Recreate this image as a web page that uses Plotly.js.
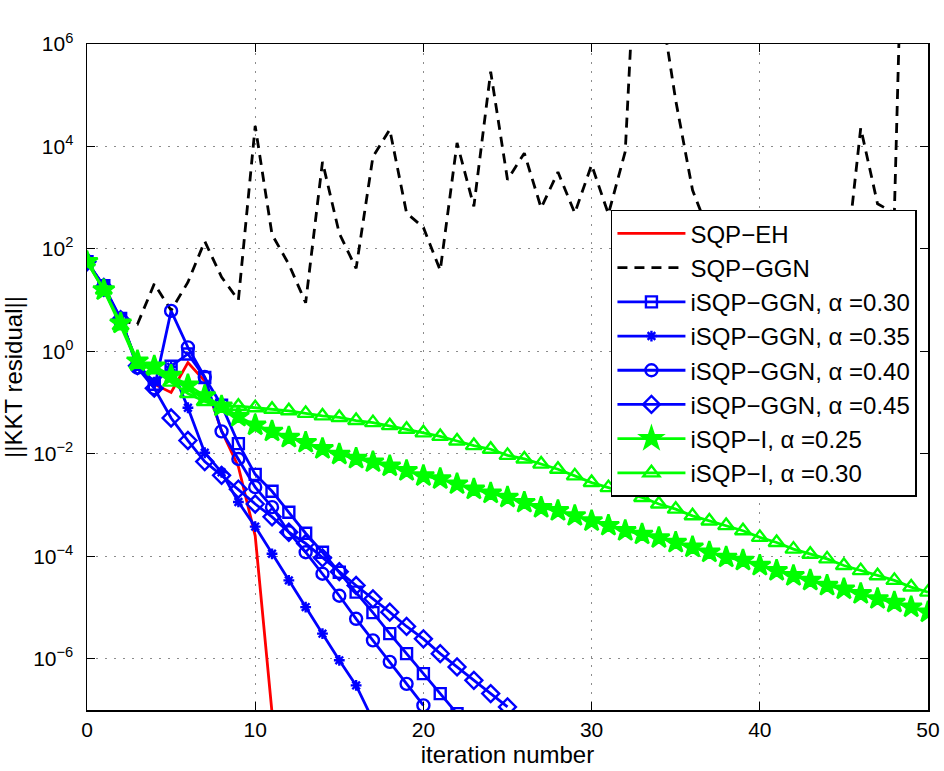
<!DOCTYPE html>
<html>
<head>
<meta charset="utf-8">
<script src="https://cdn.plot.ly/plotly-3.0.1.min.js"></script>
<style>
  html, body { margin: 0; padding: 0; background: #fff; }
  #chart { width: 944px; height: 771px; }
</style>
</head>
<body>
<div id="chart"></div>
<script>
// KKT residual per iteration for each solver variant
const sqpEH = [56.2, 17.8, 4.17, 0.562, 0.229, 0.158, 0.603, 0.263, 0.0282, 5.62e-3, 2.51e-4, 8.91e-8];

const sqpGGN = [56.2, 17.8, 3.98, 3.39, 20.9, 6.31, 22.4, 141, 28.2, 10.0,
  2.51e4, 191, 50.1, 8.91, 5.01e3, 200, 41.7, 6.31e3, 2.14e4, 501,
  263, 38.0, 1.17e4, 676, 2.88e5, 2.24e3, 7.41e3, 631, 3.16e3, 501,
  4.37e3, 479, 7.94e3, 2.51e10, 1.05e7, 7.94e4, 1.41e3, 200, 398, 79.4,
  251, 100, 316, 63.1, 158, 22.4, 2.29e4, 759, 501, 1e15, 1e14];

const ggn030 = [56.2, 19.1, 4.37, 0.562, 0.229, 0.513, 0.891, 0.309, 0.0891, 0.0158,
  3.98e-3, 1.86e-3, 7.24e-4, 2.82e-4, 1.20e-4, 4.90e-5, 2.00e-5, 7.94e-6, 3.09e-6, 1.26e-6,
  5.13e-7, 2.09e-7, 8.51e-8];

const ggn035 = [56.2, 17.8, 4.17, 0.562, 0.251, 0.501, 0.0794, 0.0105, 4.37e-3, 1.15e-3,
  3.80e-4, 1.12e-4, 3.39e-5, 1.02e-5, 3.09e-6, 9.33e-7, 3.02e-7, 6.31e-8];

const ggn040 = [56.2, 17.8, 4.17, 0.479, 0.191, 6.17, 1.20, 0.316, 0.0275, 7.94e-3,
  2.24e-3, 9.12e-4, 2.95e-4, 1.20e-4, 4.57e-5, 1.70e-5, 6.03e-6, 2.29e-6, 8.71e-7, 3.24e-7,
  1.23e-7];

const ggn045 = [56.2, 17.8, 4.17, 0.525, 0.191, 0.0501, 0.0182, 7.08e-3, 3.80e-3, 2.04e-3,
  1.05e-3, 5.89e-4, 2.95e-4, 1.78e-4, 9.33e-5, 5.01e-5, 2.69e-5, 1.48e-5, 8.13e-6, 4.27e-6,
  2.45e-6, 1.26e-6, 6.92e-7, 3.80e-7, 2.09e-7, 1.15e-7];

const isqpI025 = [56.2, 15.8, 3.55, 0.646, 0.513, 0.339, 0.219, 0.135, 0.0851, 0.0537,
  0.0363, 0.0275, 0.0209, 0.0166, 0.0126, 9.77e-3, 8.13e-3, 6.92e-3, 5.75e-3, 4.68e-3,
  3.72e-3, 3.24e-3, 2.57e-3, 2.04e-3, 1.70e-3, 1.41e-3, 1.12e-3, 8.91e-4, 7.76e-4, 6.17e-4,
  4.90e-4, 3.98e-4, 3.16e-4, 2.69e-4, 2.29e-4, 1.86e-4, 1.51e-4, 1.20e-4, 9.55e-5, 8.32e-5,
  6.61e-5, 5.25e-5, 4.17e-5, 3.39e-5, 2.69e-5, 2.29e-5, 1.86e-5, 1.48e-5, 1.26e-5, 1.02e-5,
  8.13e-6];

const isqpI030 = [56.2, 15.8, 3.16, 0.562, 0.437, 0.251, 0.151, 0.105, 0.0832, 0.0851,
  0.0794, 0.0741, 0.0692, 0.0617, 0.0550, 0.0513, 0.0447, 0.0407, 0.0355, 0.0302,
  0.0257, 0.0219, 0.0178, 0.0145, 0.0123, 9.33e-3, 7.94e-3, 6.31e-3, 5.01e-3, 3.72e-3,
  2.75e-3, 2.19e-3, 1.78e-3, 1.41e-3, 1.05e-3, 8.32e-4, 6.17e-4, 4.90e-4, 3.98e-4, 3.16e-4,
  2.34e-4, 1.86e-4, 1.38e-4, 1.10e-4, 8.91e-5, 6.61e-5, 5.25e-5, 4.17e-5, 3.39e-5, 2.51e-5,
  2.00e-5];

const seriesNames = ['SQP\u2212EH', 'SQP\u2212GGN',
  'iSQP\u2212GGN, \u03b1 =0.30', 'iSQP\u2212GGN, \u03b1 =0.35',
  'iSQP\u2212GGN, \u03b1 =0.40', 'iSQP\u2212GGN, \u03b1 =0.45',
  'iSQP\u2212I, \u03b1 =0.25', 'iSQP\u2212I, \u03b1 =0.30'];

const xTicks = [0, 10, 20, 30, 40, 50];
const yTicks = [1e-6, 1e-4, 1e-2, 1, 1e2, 1e4, 1e6];
const yTickText = ['10<sup>\u22126</sup>', '10<sup>\u22124</sup>', '10<sup>\u22122</sup>',
  '10<sup>0</sup>', '10<sup>2</sup>', '10<sup>4</sup>', '10<sup>6</sup>'];

// iteration index 0..n-1 for a series
const iters = arr => arr.map((_, i) => i);

const BLUE = '#0000ff', GREEN = '#00ff00', RED = '#ff0000';
const FONT = 'Liberation Sans, Arial, Helvetica, sans-serif';

// solid line with markers; open symbols take their stroke from marker.color
function marked(y, name, color, symbol, size) {
  return {
    x: iters(y), y: y, name: name, type: 'scatter', mode: 'lines+markers',
    line: { color: color, width: 2.8 },
    marker: { symbol: symbol, size: size, color: color, line: { color: color, width: 2.4 } }
  };
}

const traces = [
  { x: iters(sqpEH), y: sqpEH, name: seriesNames[0], type: 'scatter', mode: 'lines',
    line: { color: RED, width: 2.8 } },
  { x: iters(sqpGGN), y: sqpGGN, name: seriesNames[1], type: 'scatter', mode: 'lines',
    line: { color: '#000', width: 2.8, dash: '10px,7px' } },
  marked(ggn030, seriesNames[2], BLUE, 'square-open', 11),
  marked(ggn035, seriesNames[3], BLUE, 'asterisk-open', 9),
  marked(ggn040, seriesNames[4], BLUE, 'circle-open', 12),
  marked(ggn045, seriesNames[5], BLUE, 'diamond-open', 13),
  marked(isqpI025, seriesNames[6], GREEN, 'star', 16),
  marked(isqpI030, seriesNames[7], GREEN, 'triangle-up-open', 14)
];

const axisCommon = {
  showline: true, linecolor: '#000', linewidth: 1.5, mirror: 'ticks',
  ticks: 'inside', ticklen: 8, tickwidth: 1, tickcolor: '#000',
  showgrid: true, gridcolor: '#8c8c8c', gridwidth: 1, griddash: '2px,7px',
  zeroline: false, tickfont: { family: FONT, size: 21, color: '#000' }
};

const layout = {
  width: 944, height: 771,
  margin: { l: 87, r: 16, t: 44, b: 61, autoexpand: false },
  paper_bgcolor: '#fff', plot_bgcolor: '#fff',
  font: { family: FONT, color: '#000' },
  showlegend: true,
  xaxis: Object.assign({}, axisCommon, {
    range: [0, 50], tickvals: xTicks, ticktext: xTicks.map(String),
    ticklabelstandoff: 0, automargin: false,
    title: { text: 'iteration number', font: { family: FONT, size: 24, color: '#000' }, standoff: 0 }
  }),
  yaxis: Object.assign({}, axisCommon, {
    type: 'log', range: [-7, 6], tickvals: yTicks, ticktext: yTickText,
    ticklabelstandoff: 8, automargin: false,
    title: { text: '||KKT residual||', font: { family: FONT, size: 24, color: '#000' }, standoff: 6 }
  }),
  legend: {
    x: 0.623, y: 0.751, xanchor: 'left', yanchor: 'top',
    bgcolor: '#fff', bordercolor: '#000', borderwidth: 1.5,
    font: { family: FONT, size: 24, color: '#000' },
    itemwidth: 68, tracegroupgap: 0
  }
};

Plotly.newPlot('chart', traces, layout, { staticPlot: true, displayModeBar: false });
</script>
</body>
</html>
